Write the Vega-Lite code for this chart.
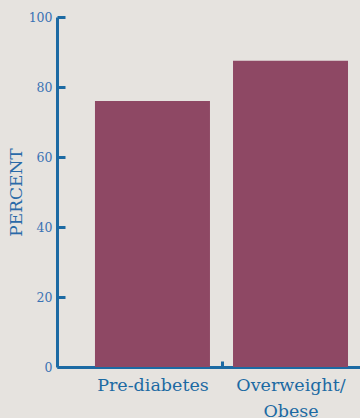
{
  "$schema": "https://vega.github.io/schema/vega-lite/v6.json",
  "width": 303,
  "height": 350,
  "autosize": {"type": "none"},
  "padding": {"left": 57, "top": 17, "right": 0, "bottom": 51},
  "background": "#e6e3df",
  "config": {
    "view": {"stroke": null},
    "axis": {
      "domainColor": "#1c6aa3",
      "domainWidth": 3,
      "tickColor": "#1c6aa3",
      "tickWidth": 3,
      "grid": false,
      "labelFont": "DejaVu Serif",
      "titleFont": "DejaVu Serif",
      "labelColor": "#3a72b4",
      "titleColor": "#2a6aa8",
      "titleFontWeight": "normal"
    }
  },
  "data": {
    "values": [
      {"group": "Pre-diabetes", "percent": 76},
      {"group": "Overweight/Obese", "percent": 87.5}
    ]
  },
  "mark": {"type": "bar", "color": "#8e4864"},
  "encoding": {
    "x": {
      "field": "group",
      "type": "nominal",
      "sort": null,
      "scale": {"paddingInner": 0.167, "paddingOuter": 0.181, "align": 0.76},
      "axis": {
        "title": null,
        "labelAngle": 0,
        "labelFontSize": 17.5,
        "labelColor": "#1c6aa3",
        "labelLineHeight": 26,
        "labelPadding": 15,
        "labelOffset": 69,
        "labelExpr": "datum.value == 'Overweight/Obese' ? ['Overweight/', 'Obese'] : datum.value",
        "tickSize": -6,
        "tickOffset": -69,
        "tickOpacity": {"condition": {"test": "datum.value == 'Pre-diabetes'", "value": 0}, "value": 1}
      }
    },
    "y": {
      "field": "percent",
      "type": "quantitative",
      "scale": {"domain": [0, 100], "nice": false},
      "axis": {
        "title": "PERCENT",
        "titleFontSize": 17,
        "titlePadding": 3,
        "values": [0, 20, 40, 60, 80, 100],
        "labelFontSize": 12.5,
        "labelPadding": 13,
        "tickSize": -8
      }
    }
  }
}
